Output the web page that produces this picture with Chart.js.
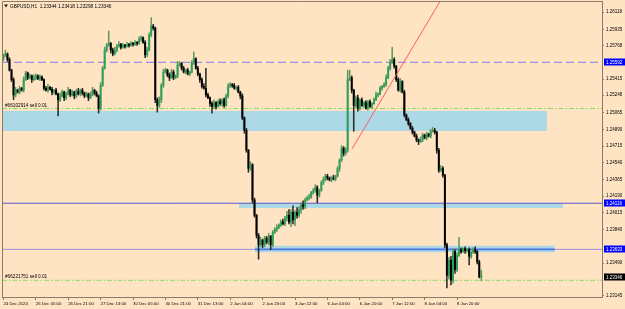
<!DOCTYPE html>
<html>
<head>
<meta charset="utf-8">
<script src="https://cdn.jsdelivr.net/npm/chart.js@4.4.1/dist/chart.umd.min.js"></script>
<style>
  html, body { margin: 0; padding: 0; background: #ffe4c4; }
</style>
</head>
<body>
<canvas id="chartGbp" width="625" height="309"></canvas>
<script>
(function () {
  'use strict';

  // ── Data ──────────────────────────────────────────────
  var SYMBOL = 'GBPUSD,H1';
  var LAST_OHLC = ['1.23344', '1.23418', '1.23298', '1.23346'];

  var xTickLabels = ['24 Dec 2024', '26 Dec 05:00', '26 Dec 21:00', '27 Dec 13:00', '30 Dec 05:00',
    '30 Dec 21:00', '31 Dec 13:00', '2 Jan 04:00', '2 Jan 20:00', '3 Jan 12:00', '6 Jan 04:00',
    '6 Jan 20:00', '7 Jan 12:00', '8 Jan 04:00', '8 Jan 20:00'];
  var BARS_PER_TICK = 16;

  var yTickValues = [1.26118, 1.25935, 1.25768, 1.25415, 1.25248, 1.25065, 1.24890, 1.24715,
    1.24540, 1.24365, 1.24190, 1.24015, 1.23840, 1.23490, 1.23145];

  var firstOpen = 1.2563;

  // hourly closes
  var closes = [
    1.2566, 1.2568, 1.2562, 1.2551, 1.2541, 1.2525, 1.2530, 1.2528, 1.2532, 1.2530,
    1.2541, 1.2548, 1.2543, 1.2545, 1.2541, 1.2543, 1.2545, 1.2542, 1.2544, 1.2541,
    1.2532, 1.2530, 1.2533, 1.2531, 1.2528, 1.2530, 1.2526, 1.2520, 1.2524, 1.2528,
    1.2522, 1.2526, 1.2530, 1.2525, 1.2528, 1.2524, 1.2529, 1.2526, 1.2530, 1.2527,
    1.2524, 1.2526, 1.2522, 1.2526, 1.2530, 1.2527, 1.2524, 1.2511, 1.2535, 1.2553,
    1.2572, 1.2577, 1.2579, 1.2572, 1.2568, 1.2572, 1.2576, 1.2578, 1.2575, 1.2577,
    1.2576, 1.2578, 1.2577, 1.2579, 1.2578, 1.2580, 1.2579, 1.2583, 1.2585, 1.2580,
    1.2567, 1.2572, 1.2588, 1.2597, 1.2595, 1.2520, 1.2514, 1.2520, 1.2535, 1.2549,
    1.2551, 1.2546, 1.2543, 1.2549, 1.2543, 1.2545, 1.2556, 1.2558, 1.2553, 1.2549,
    1.2551, 1.2547, 1.2549, 1.2559, 1.2563, 1.2553, 1.2547, 1.2541, 1.2534, 1.2532,
    1.2525, 1.2522, 1.2516, 1.2513, 1.2517, 1.2513, 1.2518, 1.2516, 1.2520, 1.2514,
    1.2524, 1.2534, 1.2536, 1.2535, 1.2532, 1.2533, 1.2528, 1.2524, 1.2501, 1.2488,
    1.2467, 1.2448, 1.2452, 1.2415, 1.2399, 1.2378, 1.2368, 1.2373, 1.2368, 1.2375,
    1.2371, 1.2377, 1.2368, 1.2381, 1.2384, 1.2386, 1.2389, 1.2392, 1.2390, 1.2396,
    1.2399, 1.2392, 1.2402, 1.2394, 1.2402, 1.2399, 1.2405, 1.2410, 1.2408, 1.2415,
    1.2417, 1.2418, 1.2423, 1.2425, 1.2428, 1.2420, 1.2425, 1.2433, 1.2436, 1.2440,
    1.2438, 1.2436, 1.2438, 1.2437, 1.2440, 1.2448, 1.2457, 1.2469, 1.2464, 1.2467,
    1.2541, 1.2543, 1.2530, 1.2514, 1.2522, 1.2511, 1.2520, 1.2514, 1.2517, 1.2511,
    1.2518, 1.2513, 1.2516, 1.2520, 1.2525, 1.2526, 1.2532, 1.2534, 1.2536, 1.2543,
    1.2553, 1.2559, 1.2562, 1.2555, 1.2541, 1.2530, 1.2539, 1.2528, 1.2504, 1.2499,
    1.2495, 1.2490, 1.2486, 1.2482, 1.2478, 1.2476, 1.2478, 1.2483, 1.2480, 1.2484,
    1.2482, 1.2487, 1.2488, 1.2486, 1.2467, 1.2446, 1.2448, 1.2441, 1.2368, 1.2336,
    1.2352, 1.2331, 1.2361, 1.2342, 1.2357, 1.2363, 1.2361, 1.2364, 1.2362, 1.2363,
    1.2356, 1.2360, 1.2363, 1.2361, 1.2350, 1.23344, 1.23346
  ];

  // upper / lower shadow length in pips
  var wickUp = [
    2, 4, 1, 2, 1, 2, 3, 1, 2, 1,   3, 2, 1, 2, 1, 3, 2, 1, 2, 1,
    1, 2, 3, 1, 2, 1, 2, 1, 3, 2,   1, 2, 3, 1, 2, 1, 2, 3, 1, 2,
    1, 2, 1, 2, 3, 1, 2, 1, 3, 2,   3, 2, 13, 1, 2, 3, 2, 3, 1, 2,
    1, 2, 1, 2, 1, 2, 1, 3, 2, 1,   2, 3, 2, 9, 2, 1, 2, 3, 2, 3,
    2, 1, 2, 3, 2, 1, 4, 2, 1, 2,   1, 2, 1, 2, 7, 1, 2, 1, 2, 3,
    21, 2, 1, 2, 3, 1, 2, 3, 1, 2,  2, 3, 2, 1, 2, 1, 2, 1, 2, 1,
    2, 1, 3, 1, 2, 1, 2, 3, 1, 2,   2, 3, 1, 2, 2, 3, 1, 2, 3, 2,
    4, 6, 3, 7, 2, 5, 3, 2, 4, 2,   2, 3, 1, 2, 3, 2, 1, 2, 3, 2,
    2, 1, 2, 3, 1, 2, 1, 3, 2, 3,   10, 8, 2, 1, 2, 3, 1, 2, 1, 2,
    1, 2, 1, 2, 3, 1, 2, 1, 2, 3,   2, 3, 13, 2, 1, 2, 3, 1, 2, 1,
    2, 1, 2, 1, 2, 1, 3, 2, 1, 2,   1, 2, 3, 2, 1, 2, 3, 2, 1, 2,
    3, 4, 3, 2, 3, 13, 2, 1, 2, 1,  2, 1, 2, 3, 1, 2, 7
  ];
  var wickDown = [
    2, 1, 2, 1, 2, 5, 2, 1, 2, 1,   2, 1, 2, 1, 3, 1, 2, 1, 2, 1,
    2, 1, 2, 1, 3, 2, 1, 17, 2, 1,  3, 2, 1, 2, 1, 3, 2, 1, 2, 2,
    2, 1, 3, 1, 2, 2, 1, 5, 2, 1,   1, 2, 1, 3, 2, 1, 2, 1, 2, 1,
    2, 1, 2, 1, 2, 1, 2, 1, 2, 1,   3, 2, 1, 2, 2, 3, 7, 2, 3, 2,
    1, 2, 3, 1, 2, 1, 2, 1, 2, 1,   2, 1, 2, 1, 2, 1, 2, 3, 2, 1,
    2, 1, 3, 7, 2, 3, 1, 2, 3, 2,   1, 2, 1, 2, 1, 2, 1, 3, 2, 3,
    2, 4, 2, 3, 2, 3, 15, 2, 3, 2,  2, 3, 5, 2, 1, 2, 1, 2, 1, 2,
    3, 2, 5, 4, 6, 3, 2, 4, 3, 2,   1, 2, 1, 2, 2, 8, 2, 1, 2, 1,
    2, 1, 2, 1, 2, 1, 3, 2, 3, 2,   2, 1, 3, 27, 2, 3, 2, 1, 2, 1,
    2, 1, 2, 1, 1, 2, 1, 2, 1, 2,   1, 2, 1, 2, 2, 1, 2, 1, 2, 1,
    2, 1, 2, 1, 2, 3, 1, 2, 1, 2,   1, 2, 1, 2, 3, 2, 1, 2, 3, 13,
    4, 5, 3, 4, 2, 1, 2, 1, 3, 2,   9, 2, 1, 2, 2, 1, 4
  ];
  var PIP = 0.0001;

  // chart objects (prices)
  var resistanceLevel = 1.25592;
  var supportLevels = [1.24116, 1.23633];
  var orders = [
    { label: '#66102914 sell 0.01', price: 1.25108 },
    { label: '#66221751 sell 0.01', price: 1.23309 }
  ];
  // zones: from bar, to bar, top, bottom
  var zones = [
    { from: -1, to: 268.4, top: 1.25082, bottom: 1.24872 },
    { from: 116.3, to: 276.3, top: 1.24116, bottom: 1.24066 },
    { from: 124.2, to: 272.3, top: 1.23672, bottom: 1.23602 }
  ];
  var trendFrom = { x: 172.1, y: 1.24684 };
  var trendTo = { x: 219, y: 1.26349 };

  // visible range
  var X_MIN = -0.7;
  var X_MAX = 295.6;
  var Y_MIN = 1.23134;
  var Y_MAX = 1.26234;

  var C = {
    bg: '#ffe4c4',
    frame: '#8c7a68',
    up: '#2f9e5a',
    down: '#000000',
    upWick: '#5f9a5a',
    downWick: '#2a2a2a',
    zone: '#add8e6',
    purple: '#9c8ee0',
    level: '#5656cc',
    levelBlue: '#4b78e6',
    green: '#86dc6a',
    trend: '#ff5e5e',
    text: '#000000',
    tag: '#0000ff'
  };
  var FONT = "'Liberation Sans', Arial, sans-serif";

  // ── Build candles ─────────────────────────────────────
  var wicks = [], bodies = [], bodyColors = [], wickColors = [];
  for (var i = 0; i < closes.length; i++) {
    var o = i === 0 ? firstOpen : closes[i - 1];
    var c = closes[i];
    var hi = Math.max(o, c) + wickUp[i] * PIP;
    var lo = Math.min(o, c) - wickDown[i] * PIP;
    var bull = c >= o;
    wicks.push({ x: i, y: [lo, hi] });
    bodies.push({ x: i, y: [o, c] });
    bodyColors.push(bull ? C.up : C.down);
    wickColors.push(bull ? C.upWick : C.downWick);
  }

  function hLine(price, color, dash, width, order) {
    return {
      type: 'line',
      data: [{ x: X_MIN, y: price }, { x: X_MAX, y: price }],
      borderColor: color,
      borderWidth: width || 1,
      borderDash: dash || [],
      pointRadius: 0,
      fill: false,
      order: order
    };
  }

  var datasets = [];

  zones.forEach(function (z) {
    datasets.push({
      type: 'line',
      data: [{ x: Math.max(z.from, X_MIN), y: z.top }, { x: z.to, y: z.top }],
      borderWidth: 0,
      borderColor: 'rgba(0,0,0,0)',
      backgroundColor: C.zone,
      pointRadius: 0,
      fill: { value: z.bottom },
      order: 20
    });
  });

  datasets.push(hLine(resistanceLevel, C.purple, [8, 4], 1.2, 15));
  datasets.push(hLine(supportLevels[0], C.level, [], 1, 15));
  datasets.push(hLine(supportLevels[1], C.purple, [], 1, 15));
  datasets.push({
    type: 'line',
    data: [{ x: zones[2].from, y: supportLevels[1] }, { x: zones[2].to, y: supportLevels[1] }],
    borderColor: C.levelBlue,
    borderWidth: 1.6,
    pointRadius: 0,
    fill: false,
    order: 14
  });
  orders.forEach(function (od) {
    datasets.push(hLine(od.price, C.green, [5, 2, 1.5, 2], 1, 15));
  });

  datasets.push({
    type: 'bar',
    data: wicks,
    backgroundColor: wickColors,
    barThickness: 0.9,
    grouped: false,
    order: 3
  });
  datasets.push({
    type: 'bar',
    data: bodies,
    backgroundColor: bodyColors,
    barThickness: 1.3,
    minBarLength: 1,
    grouped: false,
    order: 2
  });

  datasets.push({
    type: 'line',
    data: [trendFrom, trendTo],
    borderColor: C.trend,
    borderWidth: 1,
    pointRadius: 0,
    fill: false,
    order: 1
  });

  // ── Plugin: background, frame, tags, texts ────────────
  var mtDecor = {
    id: 'mtDecor',
    beforeDraw: function (chart) {
      var ctx = chart.ctx;
      ctx.save();
      ctx.fillStyle = C.bg;
      ctx.fillRect(0, 0, chart.width, chart.height);
      ctx.restore();
    },
    afterDraw: function (chart) {
      var ctx = chart.ctx;
      var a = chart.chartArea;
      var ys = chart.scales.y;
      ctx.save();

      // frame
      ctx.strokeStyle = C.frame;
      ctx.lineWidth = 1;
      ctx.beginPath();
      ctx.moveTo(a.left + 0.5, a.bottom);
      ctx.lineTo(a.left + 0.5, a.top + 0.5);
      ctx.lineTo(a.right, a.top + 0.5);
      ctx.stroke();

      // title
      ctx.fillStyle = '#222';
      ctx.beginPath();
      ctx.moveTo(4, 4.5);
      ctx.lineTo(8, 4.5);
      ctx.lineTo(6, 7.5);
      ctx.closePath();
      ctx.fill();
      ctx.font = '4.7px ' + FONT;
      ctx.textBaseline = 'middle';
      ctx.textAlign = 'left';
      ctx.fillStyle = C.text;
      ctx.fillText(SYMBOL + '  ' + LAST_OHLC.join(' '), 10, 6.5);

      // order labels
      orders.forEach(function (od) {
        var py = ys.getPixelForValue(od.price);
        ctx.textBaseline = 'alphabetic';
        ctx.fillText(od.label, 5, py - 2);
      });

      // price tags on the axis
      var tags = [
        { v: resistanceLevel, bg: C.tag },
        { v: supportLevels[0], bg: C.tag },
        { v: supportLevels[1], bg: C.tag },
        { v: parseFloat(LAST_OHLC[3]), bg: '#000' }
      ];
      ctx.font = '4.5px ' + FONT;
      tags.forEach(function (t) {
        var py = Math.round(ys.getPixelForValue(t.v));
        ctx.fillStyle = t.bg;
        ctx.fillRect(a.right + 2, py - 3.5, 21, 7);
        ctx.fillStyle = '#fff';
        ctx.textBaseline = 'middle';
        ctx.fillText(t.v.toFixed(5), a.right + 4, py + 0.5);
      });
      ctx.restore();
    }
  };

  new Chart(document.getElementById('chartGbp').getContext('2d'), {
    type: 'bar',
    data: { datasets: datasets },
    plugins: [mtDecor],
    options: {
      responsive: false,
      animation: false,
      events: [],
      layout: { padding: { left: 2, top: 1, right: 0, bottom: 0 } },
      plugins: {
        legend: { display: false },
        tooltip: { enabled: false },
        title: { display: false }
      },
      scales: {
        x: {
          type: 'linear',
          offset: false,
          bounds: 'ticks',
          min: X_MIN,
          max: X_MAX,
          afterBuildTicks: function (s) {
            s.ticks = xTickLabels.map(function (t, k) { return { value: k * BARS_PER_TICK }; });
          },
          afterFit: function (s) {
            s.height = 12;
            s.paddingLeft = 0;
            s.paddingRight = 0;
          },
          ticks: {
            autoSkip: false,
            maxRotation: 0,
            minRotation: 0,
            align: 'start',
            padding: 1,
            color: C.text,
            font: { family: FONT, size: 4.3 },
            callback: function (v) { return xTickLabels[Math.round(v / BARS_PER_TICK)]; }
          },
          grid: { offset: false, drawOnChartArea: false, drawTicks: true, tickLength: 3, color: C.frame },
          border: { display: true, color: C.frame }
        },
        y: {
          position: 'right',
          min: Y_MIN,
          max: Y_MAX,
          afterBuildTicks: function (s) {
            s.ticks = yTickValues.map(function (v) { return { value: v }; });
          },
          afterFit: function (s) {
            s.width = 23;
            s.paddingTop = 0;
            s.paddingBottom = 0;
          },
          ticks: {
            autoSkip: false,
            padding: 2,
            color: C.text,
            font: { family: FONT, size: 4.5 },
            callback: function (v) { return v.toFixed(5); }
          },
          grid: { drawOnChartArea: false, drawTicks: true, tickLength: 2, color: C.frame },
          border: { display: true, color: C.frame }
        }
      }
    }
  });
})();
</script>
</body>
</html>
